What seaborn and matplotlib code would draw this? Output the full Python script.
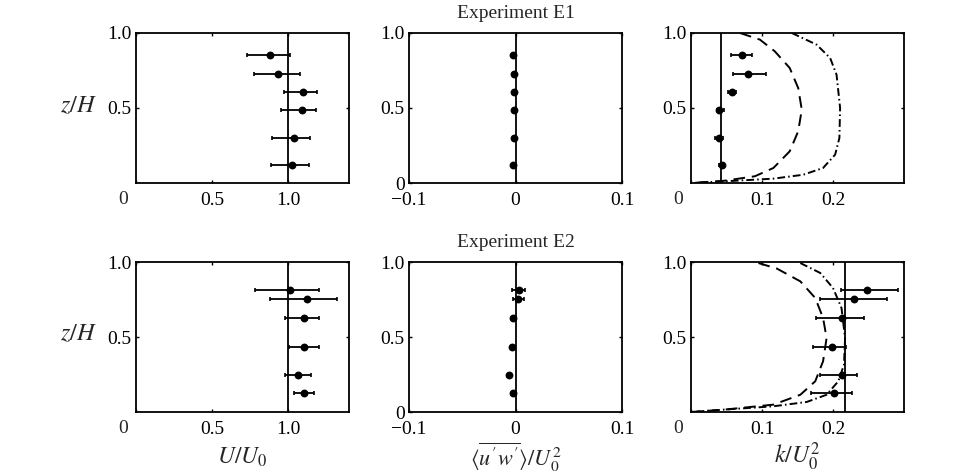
import numpy as np
import pandas as pd
import matplotlib
matplotlib.use("Agg")
import matplotlib.pyplot as plt
import seaborn as sns

# measured heights z/H
z_e1 = [0.85, 0.727, 0.604, 0.484, 0.30, 0.118]
z_e2 = [0.813, 0.751, 0.624, 0.435, 0.249, 0.124]

# E1 mean velocity U/U0 with error bar ends
u_e1 = [0.88, 0.934, 1.097, 1.088, 1.04, 1.024]
u_e1_lo = [0.727, 0.778, 0.97, 0.954, 0.895, 0.886]
u_e1_hi = [1.01, 1.075, 1.19, 1.18, 1.145, 1.138]

# E1 shear stress
uw_e1 = [-0.002, -0.0015, -0.0015, -0.0015, -0.0015, -0.002]

# E1 turbulent kinetic energy
k_e1 = [0.0714, 0.0808, 0.0573, 0.040, 0.039, 0.043]
k_e1_lo = [0.057, 0.0596, 0.052, 0.036, 0.034, 0.040]
k_e1_hi = [0.086, 0.106, 0.064, 0.047, 0.045, 0.046]

# E2 mean velocity
u_e2 = [1.013, 1.125, 1.107, 1.107, 1.064, 1.107]
u_e2_lo = [0.785, 0.882, 0.98, 1.006, 0.982, 1.041]
u_e2_hi = [1.206, 1.32, 1.20, 1.204, 1.151, 1.169]

# E2 shear stress
uw_e2 = [0.003, 0.0025, -0.002, -0.003, -0.0057, -0.0025]
uw_e2_lo = [-0.003, -0.0025, -0.002, -0.003, -0.0057, -0.0025]
uw_e2_hi = [0.009, 0.008, -0.002, -0.003, -0.0057, -0.0025]

# E2 turbulent kinetic energy
k_e2 = [0.248, 0.230, 0.213, 0.1986, 0.213, 0.202]
k_e2_lo = [0.211, 0.182, 0.176, 0.172, 0.182, 0.169]
k_e2_hi = [0.292, 0.276, 0.243, 0.218, 0.234, 0.227]

# reference values (vertical lines)
u_ref = 1.0
k_ref_e1 = 0.0423
k_ref_e2 = 0.217

# model profiles of k (dashed and dash-dot)
curve_z_e1 = [1.0, 0.956, 0.878, 0.767, 0.633, 0.489, 0.345, 0.211, 0.10, 0.045, 0.015, 0.0]
curve_dash_e1 = [0.069, 0.097, 0.118, 0.139, 0.151, 0.156, 0.151, 0.139, 0.116, 0.090, 0.047, 0.0]
curve_dd_z_e1 = [1.0, 0.922, 0.833, 0.722, 0.50, 0.30, 0.189, 0.10, 0.055, 0.029, 0.011, 0.0]
curve_dd_e1 = [0.142, 0.177, 0.196, 0.205, 0.210, 0.209, 0.203, 0.186, 0.158, 0.116, 0.047, 0.0]

curve_z_e2 = [0.993, 0.956, 0.871, 0.76, 0.627, 0.493, 0.338, 0.205, 0.115, 0.049, 0.016, 0.0]
curve_dash_e2 = [0.095, 0.121, 0.154, 0.175, 0.186, 0.191, 0.186, 0.175, 0.154, 0.116, 0.047, 0.0]
curve_dd_z_e2 = [0.993, 0.927, 0.827, 0.693, 0.493, 0.316, 0.205, 0.115, 0.067, 0.038, 0.016, 0.0]
curve_dd_e2 = [0.154, 0.182, 0.200, 0.212, 0.217, 0.2155, 0.2075, 0.191, 0.163, 0.116, 0.047, 0.0]

sns.set_theme(style="ticks")
plt.rcParams["font.family"] = ["Liberation Serif", "DejaVu Serif"]
plt.rcParams["mathtext.fontset"] = "stix"
plt.rcParams["axes.unicode_minus"] = True

fig = plt.figure(figsize=(9.6, 4.73), dpi=100)
fig.patch.set_facecolor("white")

W, H = 960.0, 473.0
lefts = [136, 409, 691]
tops = [33, 262]
aw, ah = 213, 150
axes = {}
for r, t in enumerate(tops):
    for c, l in enumerate(lefts):
        axes[(r, c)] = fig.add_axes([l / W, 1 - (t + ah) / H, aw / W, ah / H])

fs = 14


def style(ax, xlim, xticks, xlabels, ylab0, corner0):
    ax.set_xlim(*xlim)
    ax.set_ylim(0, 1)
    ax.set_xticks(xticks)
    ax.set_xticklabels(xlabels, fontsize=fs)
    if ylab0:
        ax.set_yticks([0, 0.5, 1.0])
        ax.set_yticklabels(["0", "0.5", "1.0"], fontsize=fs)
    else:
        ax.set_yticks([0.5, 1.0])
        ax.set_yticklabels(["0.5", "1.0"], fontsize=fs)
    ax.tick_params(direction="in", length=2.5, width=1, top=True, right=True,
                   pad=3, colors="black")
    ax.tick_params(axis="x", pad=6.5)
    for s in ax.spines.values():
        s.set_linewidth(1.3)
        s.set_color("black")
    ax.set_facecolor("white")
    if corner0:
        ax.annotate("0", xy=(0, 0), xycoords="axes fraction", xytext=(-9.5, -12),
                    textcoords="offset points", ha="center", va="center", fontsize=fs)


def points(ax, x, z, lo=None, hi=None):
    if lo is not None:
        xerr = [np.array(x) - np.array(lo), np.array(hi) - np.array(x)]
        ax.errorbar(x, z, xerr=xerr, fmt="none", ecolor="black", elinewidth=1.3,
                    capsize=1.5, capthick=1.2)
    sns.scatterplot(x=x, y=z, ax=ax, color="black", s=32, edgecolor="black",
                    linewidth=0, zorder=5)


def curve(ax, x, z, ls):
    df = pd.DataFrame({"k": x, "z": z})
    sns.lineplot(data=df, x="k", y="z", ax=ax, sort=False, estimator=None,
                 color="black", linewidth=1.4, linestyle=ls)


# --- Experiment E1 ---
ax = axes[(0, 0)]
ax.axvline(u_ref, color="black", lw=1.3)
points(ax, u_e1, z_e1, u_e1_lo, u_e1_hi)
style(ax, (0, 1.4), [0, 0.5, 1.0], ["", "0.5", "1.0"], False, True)

ax = axes[(0, 1)]
ax.axvline(0, color="black", lw=1.3)
points(ax, uw_e1, z_e1)
style(ax, (-0.1, 0.1), [-0.1, 0, 0.1], ["\u22120.1", "0", "0.1"], True, False)
ax.set_title("Experiment E1", fontsize=fs, pad=11)

ax = axes[(0, 2)]
ax.axvline(k_ref_e1, color="black", lw=1.3)
curve(ax, curve_dash_e1, curve_z_e1, (0, (6, 3.5)))
curve(ax, curve_dd_e1, curve_dd_z_e1, (0, (4, 1.6, 0.8, 1.6)))
points(ax, k_e1, z_e1, k_e1_lo, k_e1_hi)
style(ax, (0, 0.3), [0, 0.1, 0.2], ["", "0.1", "0.2"], False, True)

# --- Experiment E2 ---
ax = axes[(1, 0)]
ax.axvline(u_ref, color="black", lw=1.3)
points(ax, u_e2, z_e2, u_e2_lo, u_e2_hi)
style(ax, (0, 1.4), [0, 0.5, 1.0], ["", "0.5", "1.0"], False, True)

ax = axes[(1, 1)]
ax.axvline(0, color="black", lw=1.3)
points(ax, uw_e2, z_e2, uw_e2_lo, uw_e2_hi)
style(ax, (-0.1, 0.1), [-0.1, 0, 0.1], ["\u22120.1", "0", "0.1"], True, False)
ax.set_title("Experiment E2", fontsize=fs, pad=11)

ax = axes[(1, 2)]
ax.axvline(k_ref_e2, color="black", lw=1.3)
curve(ax, curve_dash_e2, curve_z_e2, (0, (6, 3.5)))
curve(ax, curve_dd_e2, curve_dd_z_e2, (0, (4, 1.6, 0.8, 1.6)))
points(ax, k_e2, z_e2, k_e2_lo, k_e2_hi)
style(ax, (0, 0.3), [0, 0.1, 0.2], ["", "0.1", "0.2"], False, True)

for ax in axes.values():
    ax.set_xlabel("")
    ax.set_ylabel("")

# axis labels
fig.text(78 / W, 1 - 106 / H, "$z/H$", fontsize=17.5, ha="center", va="center")
fig.text(78 / W, 1 - 334 / H, "$z/H$", fontsize=17.5, ha="center", va="center")
axes[(1, 0)].text(0.5, -0.30, "$U/U_0$", transform=axes[(1, 0)].transAxes,
                  fontsize=17, ha="center", va="center")
axes[(1, 1)].text(0.5, -0.30, r"$\langle\overline{u^\prime w^\prime}\rangle/U_0^2$",
                  transform=axes[(1, 1)].transAxes, fontsize=16, ha="center", va="center")
axes[(1, 2)].text(0.5, -0.30, "$k/U_0^2$", transform=axes[(1, 2)].transAxes,
                  fontsize=17, ha="center", va="center")

fig.savefig("out.png", dpi=100, facecolor="white")
